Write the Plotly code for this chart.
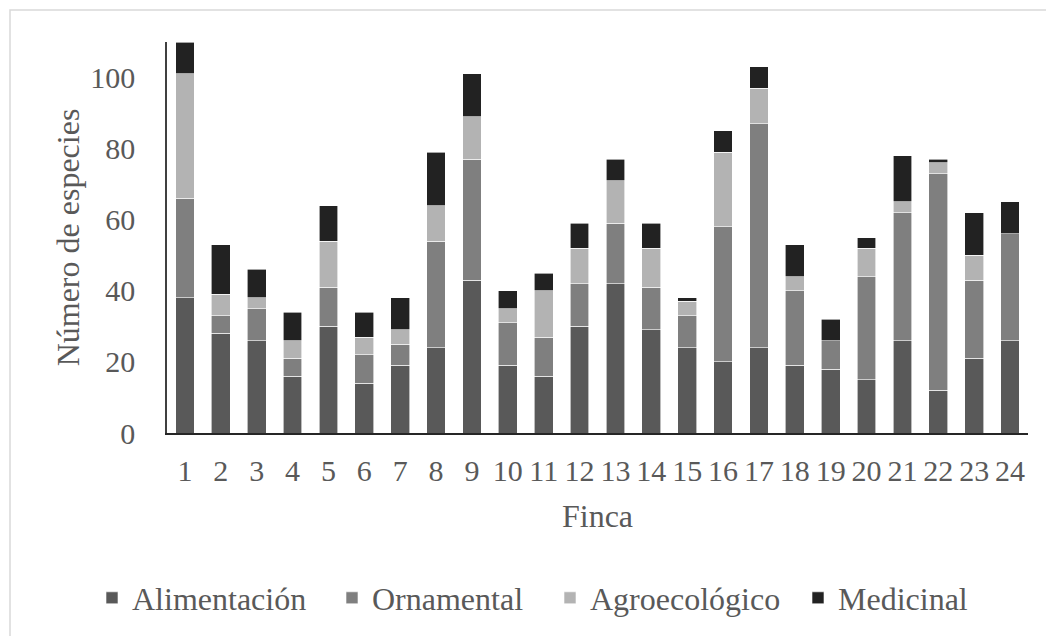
import plotly.graph_objects as go

fincas = [str(i) for i in range(1, 25)]
alimentacion = [38, 28, 26, 16, 30, 14, 19, 24, 43, 19, 16, 30, 42, 29, 24, 20, 24, 19, 18, 15, 26, 12, 21, 26]
ornamental   = [28, 5, 9, 5, 11, 8, 6, 30, 34, 12, 11, 12, 17, 12, 9, 38, 63, 21, 8, 29, 36, 61, 22, 30]
agroecologico = [35, 6, 3, 5, 13, 5, 4, 10, 12, 4, 13, 10, 12, 11, 4, 21, 10, 4, 0, 8, 3, 3, 7, 0]
medicinal    = [9, 14, 8, 8, 10, 7, 9, 15, 12, 5, 5, 7, 6, 7, 1, 6, 6, 9, 6, 3, 13, 1, 12, 9]

series = [
    ("Alimentación", alimentacion, "#595959"),
    ("Ornamental", ornamental, "#7f7f7f"),
    ("Agroecológico", agroecologico, "#b3b3b3"),
    ("Medicinal", medicinal, "#222222"),
]

FONT = "Liberation Serif"
TXT = "#595959"

W, H = 1046, 636
L, R, T, B = 167, 18, 42, 202
pw, ph = W - L - R, H - T - B

legend_names = ["legend", "legend2", "legend3", "legend4"]
legend_left_px = [92, 332, 550, 798]

fig = go.Figure()
for (name, vals, col), lg in zip(series, legend_names):
    fig.add_trace(go.Bar(
        x=fincas, y=vals, name=name, legend=lg,
        marker=dict(color=col, line=dict(color="#ffffff", width=0.6)),
    ))

legend_layouts = {}
for lg, px in zip(legend_names, legend_left_px):
    legend_layouts[lg] = dict(
        orientation="h", x=(px - L) / pw, xanchor="left", y=(434 - 598) / ph, yanchor="middle",
        font=dict(family=FONT, size=32, color=TXT),
        itemwidth=30, bgcolor="rgba(0,0,0,0)", borderwidth=0,
    )

fig.update_layout(
    width=W, height=H,
    barmode="stack", bargap=0.48,
    margin=dict(l=L, r=R, t=T, b=B, pad=0),
    paper_bgcolor="white", plot_bgcolor="white",
    font=dict(family=FONT, size=30, color=TXT),
    showlegend=True,
    xaxis=dict(
        type="category", showgrid=False, showline=True, linecolor="#262626", linewidth=1.5,
        tickmode="array", tickvals=fincas, ticktext=fincas,
        ticks="", tickfont=dict(family=FONT, size=30, color=TXT), ticklabelstandoff=10,
        title=dict(text="Finca", font=dict(family=FONT, size=32, color=TXT), standoff=19),
    ),
    yaxis=dict(
        range=[0, 110], tickvals=[0, 20, 40, 60, 80, 100], showgrid=False,
        showline=True, linecolor="#404040", linewidth=1.5, zeroline=False,
        ticks="", tickfont=dict(family=FONT, size=30, color=TXT), ticklabelstandoff=24,
        title=dict(text="Número de especies", font=dict(family=FONT, size=32, color=TXT), standoff=1),
    ),
    shapes=[dict(
        type="rect", xref="paper", yref="paper",
        x0=(10 - L) / pw, x1=(1100 - L) / pw,
        y0=(434 - 700) / ph, y1=(434 - 10) / ph,
        line=dict(color="#d9d9d9", width=1.5), fillcolor="rgba(0,0,0,0)", layer="below",
    )],
    **legend_layouts,
)

fig.write_html("out.html")
